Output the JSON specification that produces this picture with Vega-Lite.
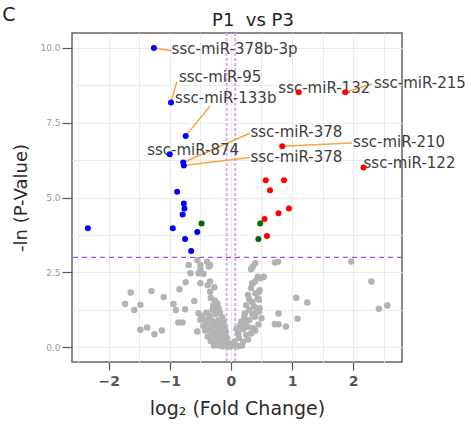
{
  "$schema": "https://vega.github.io/schema/vega-lite/v6.json",
  "autosize": {"type": "none"},
  "padding": {"left": 72, "top": 33, "right": 69, "bottom": 63},
  "background": "white",
  "width": 330,
  "height": 329,
  "title": {"text": "P1\u00a0 vs P3", "fontSize": 18, "font": "DejaVu Sans", "fontWeight": "normal", "color": "#222222", "offset": 3, "dx": 16, "dy": 27},
  "config": {
    "view": {"stroke": "#666666", "strokeWidth": 1.5},
    "axis": {"domain": false, "gridColor": "#ebebeb", "gridWidth": 1, "tickColor": "#555555", "tickWidth": 1.2}
  },
  "resolve": {"axis": {"x": "independent", "y": "independent"}},
  "datasets": {
    "pts": [
      {"x": -1.26, "y": 10.0, "g": "down"}, {"x": -0.98, "y": 8.18, "g": "down"}, {"x": -0.74, "y": 7.06, "g": "down"},
      {"x": -1.0, "y": 6.45, "g": "down"}, {"x": -0.78, "y": 6.17, "g": "down"}, {"x": -0.77, "y": 6.07, "g": "down"},
      {"x": -0.88, "y": 5.19, "g": "down"}, {"x": -0.77, "y": 4.8, "g": "down"}, {"x": -0.76, "y": 4.63, "g": "down"},
      {"x": -0.79, "y": 4.43, "g": "down"}, {"x": -2.34, "y": 3.97, "g": "down"}, {"x": -0.95, "y": 3.97, "g": "down"},
      {"x": -0.55, "y": 3.85, "g": "down"}, {"x": -0.75, "y": 3.61, "g": "down"}, {"x": -0.65, "y": 3.21, "g": "down"},
      {"x": -0.48, "y": 4.13, "g": "fc"}, {"x": 0.48, "y": 4.13, "g": "fc"}, {"x": 0.45, "y": 3.61, "g": "fc"},
      {"x": 1.11, "y": 8.52, "g": "up"}, {"x": 1.87, "y": 8.52, "g": "up"}, {"x": 0.84, "y": 6.71, "g": "up"},
      {"x": 2.17, "y": 6.0, "g": "up"}, {"x": 0.57, "y": 5.58, "g": "up"}, {"x": 0.87, "y": 5.58, "g": "up"},
      {"x": 0.64, "y": 5.24, "g": "up"}, {"x": 0.95, "y": 4.63, "g": "up"}, {"x": 0.78, "y": 4.47, "g": "up"},
      {"x": 0.55, "y": 4.28, "g": "up"}, {"x": 0.59, "y": 3.71, "g": "up"}
    ],
    "ns": [
      {"x": -1.64, "y": 1.82}, {"x": -1.3, "y": 1.87}, {"x": -1.73, "y": 1.44}, {"x": -1.48, "y": 1.41}, {"x": -1.58, "y": 1.24},
      {"x": -1.1, "y": 1.67}, {"x": -0.94, "y": 1.44}, {"x": -0.9, "y": 1.24}, {"x": -0.84, "y": 1.93}, {"x": -0.86, "y": 0.82},
      {"x": -0.79, "y": 0.82}, {"x": -1.48, "y": 0.58}, {"x": -1.37, "y": 0.65}, {"x": -1.25, "y": 0.43}, {"x": -1.13, "y": 0.55},
      {"x": -0.69, "y": 2.74}, {"x": -0.55, "y": 2.91}, {"x": -0.39, "y": 2.85}, {"x": -0.36, "y": 2.69}, {"x": -0.66, "y": 2.47},
      {"x": -0.53, "y": 2.47}, {"x": -0.5, "y": 2.13}, {"x": -0.74, "y": 2.17}, {"x": -0.34, "y": 2.19}, {"x": -0.6, "y": 1.54},
      {"x": -0.75, "y": 1.26}, {"x": -0.53, "y": 1.13}, {"x": -0.5, "y": 0.91}, {"x": -0.55, "y": 0.52},
      {"x": -0.5, "y": 2.74}, {"x": -0.34, "y": 2.74}, {"x": -0.5, "y": 2.6}, {"x": -0.45, "y": 2.45}, {"x": -0.38, "y": 2.07},
      {"x": -0.34, "y": 1.85}, {"x": -0.33, "y": 1.64}, {"x": -0.29, "y": 1.4}, {"x": -0.23, "y": 1.24}, {"x": -0.27, "y": 2.0},
      {"x": -0.26, "y": 1.55}, {"x": -0.22, "y": 1.45}, {"x": -0.2, "y": 1.3}, {"x": -0.3, "y": 1.25}, {"x": -0.4, "y": 1.15},
      {"x": -0.47, "y": 1.05}, {"x": -0.35, "y": 1.05}, {"x": -0.25, "y": 1.1}, {"x": -0.18, "y": 1.15}, {"x": -0.14, "y": 1.0},
      {"x": -0.42, "y": 0.9}, {"x": -0.33, "y": 0.92}, {"x": -0.27, "y": 0.85}, {"x": -0.2, "y": 0.9}, {"x": -0.12, "y": 0.85},
      {"x": -0.45, "y": 0.7}, {"x": -0.38, "y": 0.75}, {"x": -0.3, "y": 0.7}, {"x": -0.23, "y": 0.72}, {"x": -0.16, "y": 0.7},
      {"x": -0.1, "y": 0.65}, {"x": -0.42, "y": 0.55}, {"x": -0.35, "y": 0.55}, {"x": -0.28, "y": 0.5}, {"x": -0.21, "y": 0.55},
      {"x": -0.14, "y": 0.5}, {"x": -0.08, "y": 0.5}, {"x": -0.38, "y": 0.35}, {"x": -0.31, "y": 0.38}, {"x": -0.24, "y": 0.35},
      {"x": -0.17, "y": 0.35}, {"x": -0.11, "y": 0.35}, {"x": -0.06, "y": 0.3}, {"x": -0.33, "y": 0.2}, {"x": -0.26, "y": 0.18},
      {"x": -0.19, "y": 0.2}, {"x": -0.13, "y": 0.18}, {"x": -0.07, "y": 0.15}, {"x": -0.03, "y": 0.12}, {"x": -0.28, "y": 0.05},
      {"x": -0.2, "y": 0.05}, {"x": -0.13, "y": 0.03}, {"x": -0.07, "y": 0.04}, {"x": -0.02, "y": 0.02},
      {"x": 0.36, "y": 2.69}, {"x": 0.33, "y": 2.6}, {"x": 0.44, "y": 2.35}, {"x": 0.49, "y": 2.3}, {"x": 0.36, "y": 2.13},
      {"x": 0.33, "y": 1.97}, {"x": 0.47, "y": 1.9}, {"x": 0.28, "y": 1.74}, {"x": 0.4, "y": 1.8}, {"x": 0.44, "y": 1.63},
      {"x": 0.25, "y": 1.4}, {"x": 0.35, "y": 1.5}, {"x": 0.47, "y": 1.3}, {"x": 0.3, "y": 1.25}, {"x": 0.23, "y": 1.13},
      {"x": 0.39, "y": 1.01}, {"x": 0.5, "y": 0.96}, {"x": 0.17, "y": 0.85}, {"x": 0.3, "y": 0.9}, {"x": 0.28, "y": 0.68},
      {"x": 0.36, "y": 0.63}, {"x": 0.45, "y": 0.75}, {"x": 0.2, "y": 0.6}, {"x": 0.12, "y": 0.46}, {"x": 0.25, "y": 0.4},
      {"x": 0.33, "y": 0.45}, {"x": 0.06, "y": 0.18}, {"x": 0.2, "y": 0.18}, {"x": 0.13, "y": 0.3}, {"x": 0.28, "y": 0.25},
      {"x": 0.0, "y": 0.03}, {"x": 0.12, "y": 0.03}, {"x": 0.06, "y": 0.05}, {"x": 0.18, "y": 0.05}, {"x": 0.4, "y": 2.2},
      {"x": 0.38, "y": 1.35}, {"x": 0.3, "y": 1.6}, {"x": 0.41, "y": 1.15}, {"x": 0.22, "y": 1.0}, {"x": 0.15, "y": 0.72},
      {"x": 0.4, "y": 0.55}, {"x": 0.24, "y": 0.8}, {"x": 0.09, "y": 0.6}, {"x": 0.35, "y": 1.1}, {"x": 0.35, "y": 2.13},
      {"x": 0.4, "y": 2.8}, {"x": 0.72, "y": 2.83}, {"x": 0.77, "y": 2.85}, {"x": 0.54, "y": 2.35}, {"x": 0.46, "y": 1.85},
      {"x": 0.46, "y": 1.58}, {"x": 0.46, "y": 1.19}, {"x": 0.78, "y": 1.12}, {"x": 0.72, "y": 0.76}, {"x": 0.78, "y": 0.76},
      {"x": 0.9, "y": 0.69}, {"x": 1.09, "y": 0.95}, {"x": 1.07, "y": 1.65}, {"x": 1.25, "y": 1.49}, {"x": 1.97, "y": 2.86},
      {"x": 2.3, "y": 2.19}, {"x": 2.42, "y": 1.28}, {"x": 2.56, "y": 1.39}
    ],
    "labels": [
      {"label": "ssc-miR-378b-3p", "lx": -0.97, "ly": 9.98, "px": -1.26, "py": 10.0, "ex": -0.97, "ey": 9.91, "leader": true},
      {"label": "ssc-miR-95", "lx": -0.85, "ly": 9.02, "px": -0.98, "py": 8.18, "ex": -0.885, "ey": 8.87, "leader": true},
      {"label": "ssc-miR-133b", "lx": -0.915, "ly": 8.32, "px": -0.74, "py": 7.06, "ex": -0.34, "ey": 8.06, "leader": true},
      {"label": "ssc-miR-874", "lx": -1.37, "ly": 6.59, "px": -1.0, "py": 6.45, "ex": -1.0, "ey": 6.45, "leader": false},
      {"label": "ssc-miR-378", "lx": 0.32, "ly": 7.18, "px": -0.78, "py": 6.17, "ex": 0.31, "ey": 7.15, "leader": true},
      {"label": "ssc-miR-378", "lx": 0.32, "ly": 6.34, "px": -0.77, "py": 6.07, "ex": 0.31, "ey": 6.34, "leader": true},
      {"label": "ssc-miR-132", "lx": 0.776, "ly": 8.65, "px": 1.11, "py": 8.52, "ex": 1.11, "ey": 8.52, "leader": false},
      {"label": "ssc-miR-215", "lx": 2.34, "ly": 8.82, "px": 1.87, "py": 8.52, "ex": 2.31, "ey": 8.8, "leader": true},
      {"label": "ssc-miR-210", "lx": 2.0, "ly": 6.87, "px": 0.84, "py": 6.71, "ex": 1.98, "ey": 6.82, "leader": true},
      {"label": "ssc-miR-122", "lx": 2.17, "ly": 6.14, "px": 2.17, "py": 6.0, "ex": 2.17, "ey": 6.0, "leader": false}
    ],
    "panel": [{"label": "C", "lx": -3.74, "ly": 11.1}],
    "hline": [{"t": 3}],
    "vline": [{"v": -0.07}, {"v": 0.07}]
  },
  "layer": [
    {
      "data": {"name": "hline"},
      "mark": {"type": "rule", "color": "#a64ff2", "strokeWidth": 1.3, "strokeDash": [5, 4]},
      "encoding": {"y": {"field": "t", "type": "quantitative", "scale": {"domain": [-0.5, 10.5], "nice": false, "zero": false},
        "axis": {"values": [0, 1.25, 2.5, 3.75, 5, 6.25, 7.5, 8.75, 10], "grid": true, "labels": false, "ticks": false, "domain": false, "title": null, "orient": "right"}}}
    },
    {
      "data": {"name": "vline"},
      "mark": {"type": "rule", "color": "#d4acf7", "strokeWidth": 2, "strokeDash": [3, 2]},
      "encoding": {"x": {"field": "v", "type": "quantitative", "scale": {"domain": [-2.6, 2.8], "nice": false, "zero": false},
        "axis": {"values": [-2.5, -2, -1.5, -1, -0.5, 0, 0.5, 1, 1.5, 2, 2.5], "grid": true, "labels": false, "ticks": false, "domain": false, "title": null, "orient": "top"}}}
    },
    {
      "data": {"name": "ns"},
      "mark": {"type": "point", "filled": true, "size": 42, "opacity": 1, "color": "#b3b3b3"},
      "encoding": {
        "x": {"field": "x", "type": "quantitative",
          "axis": {"title": "log\u2082 (Fold Change)", "orient": "bottom", "values": [-2, -1, 0, 1, 2], "grid": false, "format": "d",
            "tickSize": 8, "labelPadding": 4, "labelFont": "DejaVu Sans", "labelFontSize": 14, "labelFontWeight": "bold", "labelColor": "#555555",
            "titleFont": "DejaVu Sans", "titleFontSize": 19, "titleFontWeight": "normal", "titleColor": "#2a2a2a", "titlePadding": 11}},
        "y": {"field": "y", "type": "quantitative",
          "axis": {"title": "-ln (P-Value)", "orient": "left", "values": [0, 2.5, 5, 7.5, 10], "grid": false, "format": ".1f",
            "tickSize": 10, "labelPadding": 2, "labelFont": "DejaVu Sans", "labelFontSize": 9, "labelColor": "#999999",
            "titleFont": "DejaVu Sans", "titleFontSize": 18, "titleFontWeight": "normal", "titleColor": "#2a2a2a", "titlePadding": 9}}
      }
    },
    {
      "data": {"name": "labels"},
      "transform": [{"filter": "datum.leader"}],
      "mark": {"type": "rule", "color": "#f7a544", "strokeWidth": 1.5},
      "encoding": {
        "x": {"field": "px", "type": "quantitative", "axis": null},
        "y": {"field": "py", "type": "quantitative", "axis": null},
        "x2": {"field": "ex"},
        "y2": {"field": "ey"}
      }
    },
    {
      "data": {"name": "labels"},
      "mark": {"type": "text", "align": "left", "baseline": "middle", "font": "DejaVu Sans", "fontSize": 15, "color": "#3d3d3d"},
      "encoding": {
        "x": {"field": "lx", "type": "quantitative", "axis": null},
        "y": {"field": "ly", "type": "quantitative", "axis": null},
        "text": {"field": "label"}
      }
    },
    {
      "data": {"name": "panel"},
      "mark": {"type": "text", "align": "left", "baseline": "middle", "font": "DejaVu Sans", "fontSize": 19, "color": "#222222"},
      "encoding": {
        "x": {"field": "lx", "type": "quantitative", "axis": null},
        "y": {"field": "ly", "type": "quantitative", "axis": null},
        "text": {"field": "label"}
      }
    },
    {
      "data": {"name": "pts"},
      "mark": {"type": "point", "filled": true, "size": 36, "opacity": 1},
      "encoding": {
        "x": {"field": "x", "type": "quantitative", "axis": null},
        "y": {"field": "y", "type": "quantitative", "axis": null},
        "color": {"field": "g", "type": "nominal", "scale": {"domain": ["down", "up", "fc"], "range": ["#0000ff", "#ff0000", "#006400"]}, "legend": null}
      }
    }
  ]
}
